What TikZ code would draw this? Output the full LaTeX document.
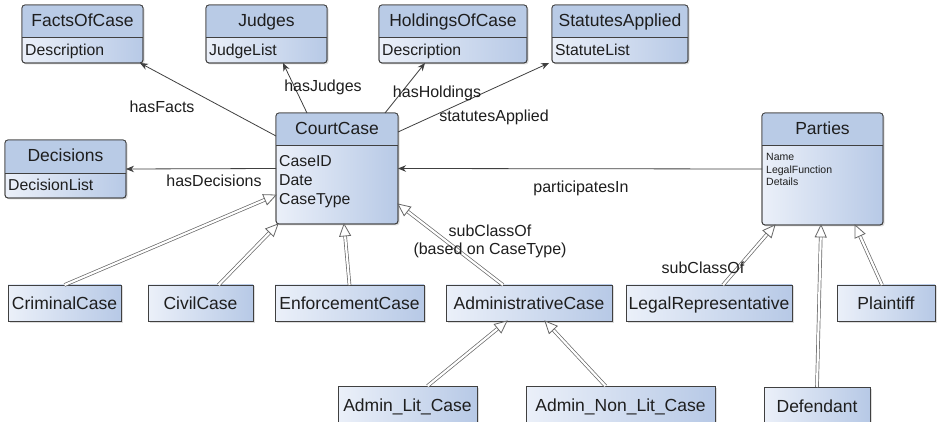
\documentclass[tikz,border=0pt]{standalone}
\usepackage{fontspec}
\setmainfont{Liberation Sans}
\usetikzlibrary{arrows.meta,calc,fit,shadows}

\definecolor{hdrblue}{HTML}{B9CBE6}
\definecolor{bodylight}{HTML}{EBF0F9}
\definecolor{bodydark}{HTML}{B7C9E6}
\definecolor{edgegray}{HTML}{404040}
\definecolor{txt}{HTML}{1E1E1E}

\tikzset{
  boxshadow/.style={drop shadow={shadow xshift=1.5pt,shadow yshift=-1.5pt,opacity=0.22,fill=black!60}},
  clsbody/.style={draw=edgegray, line width=0.8pt, rounded corners=3pt,
    left color=bodylight, right color=bodydark, inner sep=0pt, outer sep=0pt, boxshadow},
  clstitle/.style={font=\fontsize{17.5}{21}\selectfont, text=txt, inner sep=0pt},
  attr/.style={font=\fontsize{15.8}{19}\selectfont, text=txt, inner sep=0pt, anchor=base west},
  smallattr/.style={font=\fontsize{10.5}{12.6}\selectfont, text=txt, inner sep=0pt, anchor=base west},
  subbox/.style={draw=edgegray, line width=0.8pt, left color=bodylight, right color=bodydark,
    inner sep=0pt, outer sep=0pt, anchor=north west, minimum height=36pt,
    text height=13pt, text depth=0pt, font=\fontsize{17.5}{21}\selectfont, text=txt, boxshadow},
  assoc/.style={draw=edgegray, line width=0.8pt, -{Stealth[length=8pt,width=6.5pt]}},
  inhline/.style={draw=edgegray!80, line width=0.7pt, double=white, double distance=2.2pt},
  inhtip/.style={draw=edgegray!80, line width=0.8pt, fill=white, line join=miter},
  elabel/.style={font=\fontsize{16}{19}\selectfont, text=txt, inner sep=0pt, anchor=base},
}

% UML class box: name, left, top, right, header bottom, bottom, title
\newcommand\umlclass[7]{%
  \node[clsbody, fit={(#2,#3) (#4,#6)}] (#1) {};
  \begin{scope}
    \clip[rounded corners=3pt] (#1.north west) rectangle (#1.south east);
    \fill[hdrblue] (#1.north west) rectangle (#4,#5);
  \end{scope}
  \draw[edgegray, line width=0.8pt] (#2,#5) -- (#4,#5);
  \draw[edgegray, line width=0.8pt, rounded corners=3pt] (#1.north west) rectangle (#1.south east);
  \node[clstitle, anchor=base] (#1-t) at ({(#2+#4)/2},{#3+22}) {#7};
}

% generalisation: double line ending in an open triangle (12pt long, 11pt wide)
\newcommand\inherit[2]{%
  \draw[inhline, shorten >=12pt] #1 -- #2;
  \coordinate (tipbase) at ($#2!12pt!#1$);
  \draw[inhtip] #2 -- ($(tipbase)!5.5pt!90:#2$) -- ($(tipbase)!5.5pt!-90:#2$) -- cycle;
}

\begin{document}
\begin{tikzpicture}[x=1pt,y=-1pt]
\clip (0,0) rectangle (943,422);
\fill[white] (0,0) rectangle (943,422);

% classes with attributes
\umlclass{facts}{22}{5}{143}{37}{63}{FactsOfCase}
\node[attr] (facts-a) at (25,56) {Description};

\umlclass{judges}{206}{5}{327}{37}{63}{Judges}
\node[attr] (judges-a) at (209,56) {JudgeList};

\umlclass{hold}{379}{5}{527}{37}{63}{HoldingsOfCase}
\node[attr] (hold-a) at (382,56) {Description};

\umlclass{stat}{552}{5}{688}{37}{63}{StatutesApplied}
\node[attr] (stat-a) at (555,56) {StatuteList};

\umlclass{dec}{5}{140}{126}{173}{198}{Decisions}
\node[attr] (dec-a) at (8,191) {DecisionList};

\umlclass{court}{276}{113}{398}{145}{224}{CourtCase}
\node[attr] (court-a1) at (279,167) {CaseID};
\node[attr] (court-a2) at (279,186) {Date};
\node[attr] (court-a3) at (279,205) {CaseType};

\umlclass{parties}{762}{113}{883}{145}{225}{Parties}
\node[smallattr] (parties-a1) at (766,161) {Name};
\node[smallattr] (parties-a2) at (766,174) {LegalFunction};
\node[smallattr] (parties-a3) at (766,186) {Details};

% subclasses
\node[subbox, minimum width=113pt] (crim) at (8,285) {CriminalCase};
\node[subbox, minimum width=105pt] (civil) at (148,285) {CivilCase};
\node[subbox, minimum width=149pt] (enf) at (275,285) {EnforcementCase};
\node[subbox, minimum width=166pt] (admin) at (446,285) {AdministrativeCase};
\node[subbox, minimum width=166pt] (legal) at (626,285) {LegalRepresentative};
\node[subbox, minimum width=98pt] (plaint) at (837,285) {Plaintiff};
\node[subbox, minimum width=139pt, minimum height=37pt] (adminlit) at (338,386) {Admin\_Lit\_Case};
\node[subbox, minimum width=189pt, minimum height=37pt] (adminnon) at (526,386) {Admin\_Non\_Lit\_Case};
\node[subbox, minimum width=106pt, minimum height=37pt] (defend) at (764,387) {Defendant};

% associations
\draw[assoc] ([yshift=-23pt]court.north west) -- ([xshift=-3pt]facts.south east);
\draw[assoc] ([xshift=31pt]court.north west) -- ([xshift=-44pt]judges.south east);
\draw[assoc] ([xshift=109pt]court.north west) -- ([xshift=46pt]hold.south west);
\draw[assoc] ([yshift=-19pt]court.north east) -- ([xshift=-3pt]stat.south west);
\draw[assoc] (court.west) -- (dec.east);
\draw[assoc] (parties.west) -- (court.east);

\node[elabel] (l-facts) at (162,113) {hasFacts};
\node[elabel] (l-judges) at (323,92) {hasJudges};
\node[elabel] (l-hold) at (437,98) {hasHoldings};
\node[elabel] (l-stat) at (494,122) {statutesApplied};
\node[elabel] (l-dec) at (214,187) {hasDecisions};
\node[elabel] (l-part) at (581,193) {participatesIn};

% generalisations
\inherit{(crim.north)}{([yshift=-82pt]court.north west)}
\inherit{([xshift=18pt]civil.north)}{([xshift=2pt]court.south west)}
\inherit{(enf.north)}{([xshift=68pt]court.south west)}
\inherit{([xshift=-26pt]admin.north)}{([yshift=-91pt]court.north east)}
\inherit{([xshift=20pt]adminlit.north)}{([xshift=-22pt]admin.south)}
\inherit{([xshift=-15pt]adminnon.north)}{([xshift=16pt]admin.south)}
\inherit{([xshift=14pt]legal.north)}{([xshift=13pt]parties.south west)}
\inherit{(defend.north)}{([xshift=59pt]parties.south west)}
\inherit{([xshift=-4pt]plaint.north)}{([xshift=-28pt]parties.south east)}

\node[elabel] (l-sub1) at (490,237) {subClassOf};
\node[elabel] (l-sub2) at (490,255) {(based on CaseType)};
\node[elabel] (l-sub3) at (703,274) {subClassOf};
\end{tikzpicture}
\end{document}
